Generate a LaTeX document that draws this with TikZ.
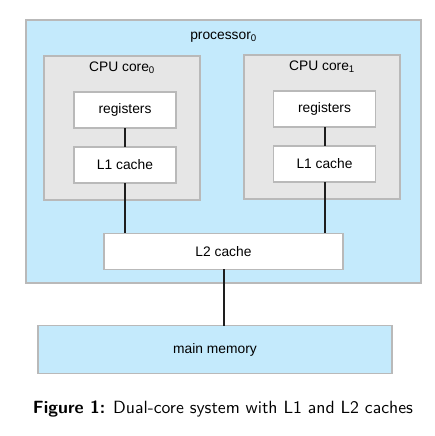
\documentclass[tikz,border=0pt]{standalone}
\usepackage{fontspec}
\setmainfont{Liberation Sans}
\setsansfont{Latin Modern Sans}
\definecolor{procblue}{RGB}{196,234,252}
\definecolor{coregray}{RGB}{230,230,230}
\definecolor{edgegray}{RGB}{185,185,185}
\definecolor{wire}{RGB}{30,30,30}
\tikzset{
  box/.style={draw=edgegray, line width=1.3pt, inner sep=0pt, outer sep=0pt, font=\fontsize{13.8}{16}\selectfont},
  bluebox/.style={box, fill=procblue},
  graybox/.style={box, fill=coregray},
  whitebox/.style={box, fill=white},
  lbl/.style={inner sep=0pt, font=\fontsize{13.8}{16}\selectfont},
  wireline/.style={draw=wire, line width=2pt}
}
\begin{document}
\begin{tikzpicture}[x=1pt,y=-1pt]
\useasboundingbox (0,0) rectangle (435,436);
\node[bluebox, minimum width=395pt, minimum height=263pt] (proc) at (223.5,151.5) {};
\node[lbl] (proclbl) at (223.5,37) {processor\textsubscript{0}};
\node[graybox, minimum width=156pt, minimum height=144pt] (core0) at (122,128) {};
\node[graybox, minimum width=156pt, minimum height=144pt] (core1) at (322,127) {};
\node[lbl] (c0lbl) at (122,68) {CPU core\textsubscript{0}};
\node[lbl] (c1lbl) at (322,67) {CPU core\textsubscript{1}};
\node[whitebox, minimum width=102pt, minimum height=36pt] (reg0) at (125,110) {registers};
\node[whitebox, minimum width=102pt, minimum height=36pt] (l10) at (125,165) {L1 cache};
\node[whitebox, minimum width=102pt, minimum height=36pt] (reg1) at (324.5,109) {registers};
\node[whitebox, minimum width=102pt, minimum height=36pt] (l11) at (324.5,164) {L1 cache};
\node[whitebox, minimum width=239pt, minimum height=36pt] (l2) at (223.5,251.3) {L2 cache};
\node[bluebox, minimum width=354pt, minimum height=47.6pt] (mem) at (215,349.5) {main memory};
\path[wireline] (reg0.south) -- (l10.north);
\path[wireline] (reg1.south) -- (l11.north);
\path[wireline] (l10.south) -- (l10.south |- l2.north);
\path[wireline] (l11.south) -- (l11.south |- l2.north);
\coordinate (memtop) at (224,0);
\path[wireline] (memtop |- l2.south) -- (memtop |- mem.north);
\node[inner sep=0pt, anchor=base] (cap) at (223,413) {\resizebox{380pt}{!}{\sffamily\textbf{Figure 1:} Dual-core system with L1 and L2 caches}};
\end{tikzpicture}
\end{document}
